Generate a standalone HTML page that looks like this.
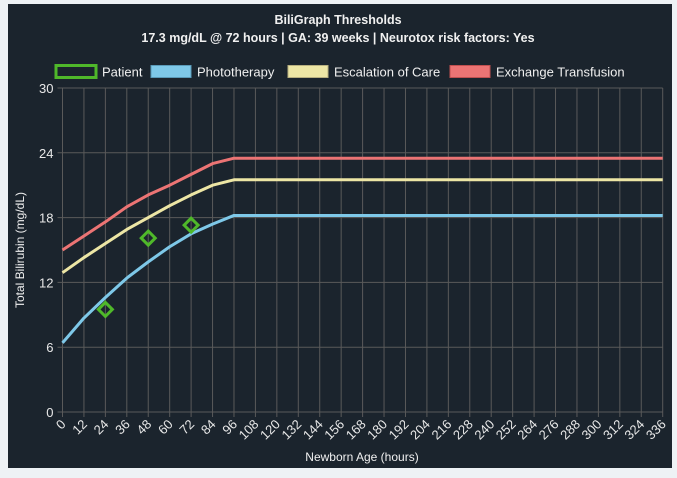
<!DOCTYPE html>
<html><head><meta charset="utf-8"><style>
body{margin:0;background:#eef2f5;font-family:"Liberation Sans",sans-serif}
#panel{position:absolute;left:8px;top:4px;width:664px;height:464px;background:#1b242d}
</style></head><body>
<div id="panel"></div>
<svg id="chart" width="677" height="478" style="position:absolute;left:0;top:0"></svg>
<script>
const hours=[0,12,24,36,48,60,72,84,96,108,336];
const photo=[6.4,8.7,10.6,12.4,13.9,15.3,16.5,17.4,18.2,18.2,18.2];
const escal=[12.9,14.3,15.6,16.9,18.0,19.1,20.1,21.0,21.5,21.5,21.5];
const exch=[15.0,16.3,17.6,19.0,20.1,21.0,22.0,23.0,23.5,23.5,23.5];
const patientH=[24,48,72];
const patientV=[9.5,16.1,17.3];
const yTicks=[0,6,12,18,24,30];
const xTicks=[];for(let h=0;h<=336;h+=12)xTicks.push(h);
const X0=62.5,X1=662.7,Y0=412,Y1=88;
const sx=h=>X0+(X1-X0)*h/336, sy=v=>Y0-(Y0-Y1)*v/30;
const svg=document.getElementById('chart'),NS='http://www.w3.org/2000/svg';
function mk(t,a,p){const e=document.createElementNS(NS,t);for(const k in a)e.setAttribute(k,a[k]);(p||svg).appendChild(e);return e;}
const grid='#5a5a5a';
yTicks.forEach(v=>{const l=mk('line',{x1:X0-5,x2:X1,y1:sy(v),y2:sy(v),stroke:grid,'stroke-width':1});

const t=mk('text',{x:X0-9,y:sy(v)+5,fill:'#e8e8e8','font-size':13,'text-anchor':'end'});t.textContent=v;
});
xTicks.forEach(h=>{const l=mk('line',{x1:sx(h),x2:sx(h),y1:Y1,y2:Y0+5,stroke:grid,'stroke-width':1});

const t=mk('text',{x:sx(h)+4,y:Y0+13,fill:'#e8e8e8','font-size':13,'text-anchor':'end',transform:`rotate(-45 ${sx(h)+4} ${Y0+13})`});t.textContent=h;
});
function line(vals,col,name){const d=hours.map((h,i)=>(i?'L':'M')+sx(h)+','+sy(vals[i])).join(' ');
const p=mk('path',{d,fill:'none',stroke:col,'stroke-width':3,'stroke-linejoin':'round'});
}
line(photo,'#7ec8e8','phototherapy-line');line(escal,'#ede6a5','escalation-line');line(exch,'#ec7474','exchange-line');
patientH.forEach((h,i)=>{const x=sx(h),y=sy(patientV[i]);
const p=mk('path',{d:`M${x},${y-7} L${x+7},${y} L${x},${y+7} L${x-7},${y} Z`,fill:'none',stroke:'#4fb82a','stroke-width':3});
});
function txt(s,x,y,sz,w,anc,name,tr){const t=mk('text',{x,y,fill:'#f0f0f0','font-size':sz,'font-weight':w,'text-anchor':anc});if(tr)t.setAttribute('transform',tr);
t.textContent=s;
}
txt('BiliGraph Thresholds',338,24,12.5,'bold','middle','chart-title');
txt('17.3 mg/dL @ 72 hours | GA: 39 weeks | Neurotox risk factors: Yes',338,42,12.5,'bold','middle','chart-subtitle');
txt('Newborn Age (hours)',362,461,12,'normal','middle','x-axis-title');
txt('Total Bilirubin (mg/dL)',24,250,12,'normal','middle','y-axis-title','rotate(-90 24 250)');
const leg=[['Patient',55,'none','#4fb82a'],['Phototherapy',150,'#7ec8e8','#5a9ab8'],['Escalation of Care',287,'#ede6a5','#b8b080'],['Exchange Transfusion',449,'#ec7474','#c05050']];
leg.forEach(([n,x,f,s])=>{const g=mk('g',{});
mk('rect',{x:x+1,y:65.5,width:40,height:12,fill:f,stroke:s,'stroke-width':n==='Patient'?3:1},g);
const t=mk('text',{x:x+47,y:76.5,fill:'#f0f0f0','font-size':13},g);t.textContent=n;});
</script></body></html>
